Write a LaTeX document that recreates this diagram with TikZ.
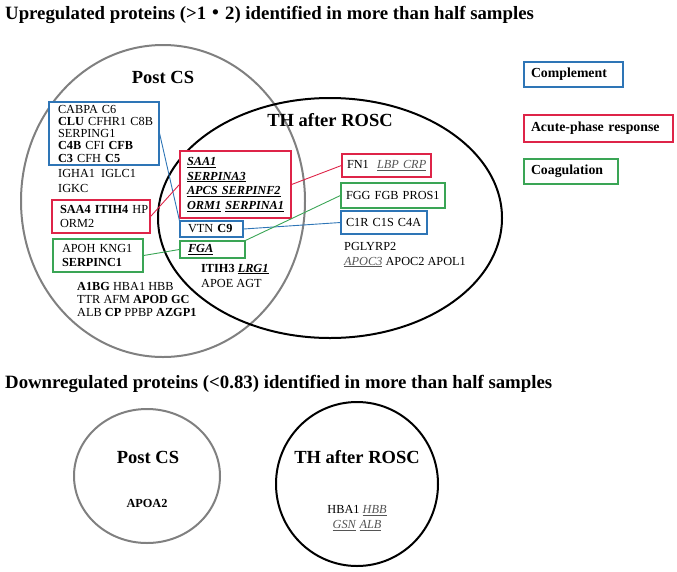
\documentclass[tikz,border=0pt]{standalone}
\usepackage{fontspec}
\setmainfont{Liberation Serif}
\newfontfamily\cjk{Noto Sans CJK JP}
\definecolor{cmpblue}{RGB}{46,117,182}
\definecolor{apred}{RGB}{222,36,72}
\definecolor{cogreen}{RGB}{58,165,85}
\definecolor{ellgray}{RGB}{128,128,128}
\definecolor{ulgray}{RGB}{85,85,85}
\newcommand{\ulb}[1]{\underline{\textbf{\textit{#1}}}}
\newcommand{\uli}[1]{\textcolor{ulgray}{\underline{\textit{#1}}}}
\begin{document}
\begin{tikzpicture}[x=1pt, y=-1pt,
  venn/.style={line width=2pt},
  grp/.style={draw, line width=1.2pt, fill=white, align=left, inner ysep=0pt},
  lgd/.style={draw, line width=1.2pt, align=left, inner xsep=7pt, font=\bfseries\fontsize{13.8}{13.8}\selectfont},
  tag/.style={font=\bfseries\fontsize{18.5}{18.5}\selectfont},
  genes/.style={align=left, inner sep=0pt},
  title/.style={anchor=west, inner sep=0pt, font=\bfseries\fontsize{18.8}{18.8}\selectfont},
  link/.style={line width=0.9pt}
]
\useasboundingbox (0,0) rectangle (677,571);
\node[title] (up) at (5,15) {Upregulated proteins (>1{\cjk ・}2) identified in more than half samples};
\draw[venn, ellgray] (163,201) ellipse [x radius=142pt, y radius=156pt];
\draw[venn, black] (330,218) ellipse [x radius=172pt, y radius=120pt];
\node[tag] (post) at (163,77) {Post CS};
\node[tag] (th) at (330,120) {TH after ROSC};
\node[lgd, draw=cmpblue, text width=85pt, minimum height=25pt] (lgcmp) at (573.5,74.5) {Complement};
\node[lgd, draw=apred, text width=135pt, minimum height=27pt] (lgap) at (598.5,128.5) {Acute-phase~response};
\node[lgd, draw=cogreen, text width=80pt, minimum height=25pt] (lgco) at (571,171.5) {Coagulation};
\node[grp, draw=cmpblue, text width=92pt, inner xsep=9pt, minimum height=63pt, font=\fontsize{12.3}{12.25}\selectfont] (cmpPost) at (104,133.5)
  {CABPA~C6\\\textbf{CLU}~CFHR1~C8B\\SERPING1\\\textbf{C4B}~CFI~\textbf{CFB}\\\textbf{C3}~CFH~\textbf{C5}};
\node[genes, anchor=west, font=\fontsize{12.3}{15}\selectfont] (ig) at (58,180.5) {IGHA1\ \ IGLC1\\IGKC};
\node[grp, draw=apred, text width=82pt, inner xsep=8pt, minimum height=33pt, font=\fontsize{12.3}{14}\selectfont] (apPost) at (101,216.5)
  {\textbf{SAA4~ITIH4}~HP\\ORM2};
\node[grp, draw=cogreen, text width=72pt, inner xsep=9pt, minimum height=33pt, font=\fontsize{12.3}{14}\selectfont] (coPost) at (98,255.5)
  {APOH~KNG1\\\textbf{SERPINC1}};
\node[genes, anchor=west, font=\fontsize{12.3}{13}\selectfont] (restPost) at (77,299)
  {\textbf{A1BG} HBA1 HBB\\TTR AFM \textbf{APOD GC}\\ALB \textbf{CP} PPBP \textbf{AZGP1}};
\node[grp, draw=apred, text width=97pt, inner xsep=7pt, minimum height=67pt, font=\fontsize{12.3}{14.7}\selectfont] (apBoth) at (235.5,184.5)
  {\ulb{SAA1}\\\ulb{SERPINA3}\\\ulb{APCS~SERPINF2}\\\ulb{ORM1}~\ulb{SERPINA1}};
\node[grp, draw=cmpblue, text width=47pt, inner xsep=8pt, minimum height=16pt, font=\fontsize{12.3}{14}\selectfont] (cmpBoth) at (211.5,229)
  {VTN~\textbf{C9}};
\node[grp, draw=cogreen, text width=49pt, inner xsep=8pt, minimum height=17pt, font=\fontsize{12.3}{14}\selectfont] (coBoth) at (212.5,249.5)
  {\ulb{FGA}};
\node[genes, anchor=west, font=\fontsize{12.3}{15}\selectfont] (restBoth) at (201,275.5)
  {\textbf{ITIH3} \ulb{LRG1}\\APOE AGT};
\node[grp, draw=apred, text width=79pt, inner xsep=5pt, minimum height=23pt, font=\fontsize{12.3}{14}\selectfont] (apTH) at (386.5,165.5)
  {FN1~~\uli{LBP~CRP}};
\node[grp, draw=cogreen, text width=94pt, inner xsep=5pt, minimum height=25pt, font=\fontsize{12.3}{14}\selectfont] (coTH) at (393,195.5)
  {FGG~FGB~PROS1};
\node[grp, draw=cmpblue, text width=76pt, inner xsep=5pt, minimum height=23pt, font=\fontsize{12.3}{14}\selectfont] (cmpTH) at (384,222.5)
  {C1R~C1S~C4A};
\node[genes, anchor=west, font=\fontsize{12.3}{15}\selectfont] (restTH) at (344,254.5)
  {PGLYRP2\\\uli{APOC3} APOC2 APOL1};
\draw[link, cmpblue] (cmpPost.east) -- (cmpBoth.north west);
\draw[link, cmpblue] (cmpBoth.east) -- (cmpTH.west);
\draw[link, apred] (apPost.east) -- (apBoth.west);
\draw[link, apred] (apBoth.east) -- (apTH.west);
\draw[link, cogreen] (coPost.east) -- (coBoth.west);
\draw[link, cogreen] (coBoth.north east) -- (coTH.west);
\node[title] (down) at (5,384) {Downregulated proteins (<0.83) identified in more than half samples};
\draw[venn, ellgray] (147,476) ellipse [x radius=73pt, y radius=67pt];
\draw[venn, black] (357,484) ellipse [x radius=81pt, y radius=82pt];
\node[tag] (postdn) at (148,457) {Post CS};
\node[tag] (thdn) at (357,457) {TH after ROSC};
\node[genes, font=\bfseries\fontsize{12.3}{14}\selectfont] (apoa) at (147,503) {APOA2};
\node[genes, align=center, font=\fontsize{12.3}{15}\selectfont] (hb) at (357,518)
  {HBA1 \uli{HBB}\\\uli{GSN} \uli{ALB}};
\end{tikzpicture}
\end{document}
